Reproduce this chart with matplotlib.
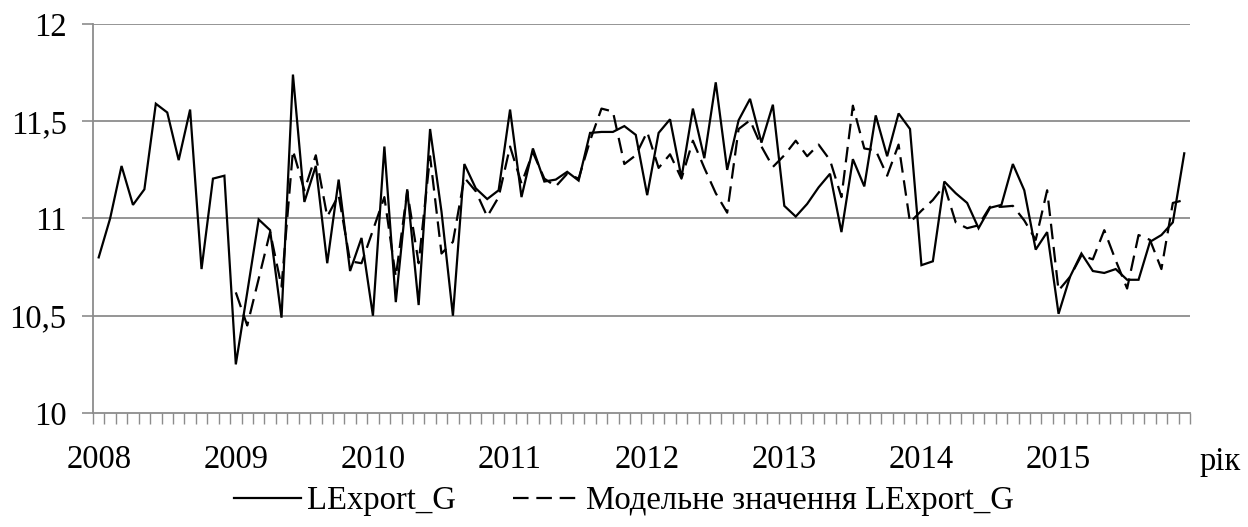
import matplotlib
matplotlib.use("Agg")
import matplotlib.pyplot as plt
from matplotlib.ticker import FixedLocator, FuncFormatter
import numpy as np

years = ["2008", "2009", "2010", "2011", "2012", "2013", "2014", "2015"]

lexport = [
    10.80, 11.00, 11.27, 11.07, 11.15, 11.59, 11.545, 11.30, 11.56, 10.74, 11.205, 11.22,
    10.25, 10.62, 10.995, 10.94, 10.49, 11.74, 11.085, 11.27, 10.77, 11.20, 10.73, 10.90,
    10.50, 11.37, 10.57, 11.15, 10.555, 11.46, 11.035, 10.50, 11.28, 11.155, 11.10, 11.145,
    11.56, 11.11, 11.36, 11.19, 11.20, 11.24, 11.195, 11.44, 11.445, 11.445, 11.475, 11.43,
    11.12, 11.44, 11.51, 11.21, 11.565, 11.31, 11.70, 11.25, 11.505, 11.615, 11.39, 11.585,
    11.065, 11.01, 11.075, 11.16, 11.23, 10.93, 11.305, 11.165, 11.53, 11.32, 11.54, 11.46,
    10.76, 10.78, 11.19, 11.13, 11.08, 10.95, 11.055, 11.07, 11.28, 11.145, 10.84, 10.93,
    10.51, 10.70, 10.82, 10.73, 10.72, 10.74, 10.685, 10.685, 10.88, 10.915, 10.98, 11.335,
]

model = [
    None, None, None, None, None, None, None, None, None, None, None, None,
    10.62, 10.45, 10.69, 10.93, 10.65, 11.35, 11.145, 11.325, 11.01, 11.12, 10.78, 10.77,
    10.94, 11.11, 10.70, 11.14, 10.77, 11.32, 10.82, 10.88, 11.21, 11.14, 11.01, 11.11,
    11.37, 11.18, 11.34, 11.205, 11.165, 11.23, 11.205, 11.40, 11.565, 11.55, 11.28, 11.325,
    11.445, 11.26, 11.33, 11.205, 11.40, 11.26, 11.13, 11.03, 11.46, 11.505, 11.37, 11.265,
    11.325, 11.40, 11.32, 11.38, 11.30, 11.11, 11.58, 11.36, 11.35, 11.22, 11.38, 10.98,
    11.04, 11.095, 11.17, 10.98, 10.95, 10.965, 11.06, 11.06, 11.065, 10.99, 10.89, 11.145,
    10.63, 10.70, 10.81, 10.79, 10.94, 10.785, 10.64, 10.915, 10.89, 10.74, 11.08, 11.095,
]

legend_labels = ["LExport_G", "Модельне значення LExport_G"]
y_ticks = [10, 10.5, 11, 11.5, 12]

plt.rcParams['font.family'] = ['Liberation Serif', 'DejaVu Serif']
FS = 23.5

fig = plt.figure(figsize=(12.48, 5.27), dpi=100)
ax = fig.add_axes([0.0745, 0.2163, 0.8790, 0.7382])

x = np.arange(len(lexport))
m = np.array([np.nan if v is None else v for v in model], dtype=float)

ax.plot(x, lexport, color='black', lw=1.6, solid_joinstyle='miter', label=legend_labels[0])
ax.plot(x, m, color='black', lw=1.6, dashes=(7, 3.5), label=legend_labels[1])

ax.set_xlim(-0.5, len(lexport) - 0.5)
ax.set_ylim(10, 12)

grid_c = '#8c8c8c'
for yv in y_ticks[1:]:
    ax.axhline(yv, color=grid_c, lw=1.3, zorder=0)

ax.set_yticks(y_ticks)
ax.yaxis.set_major_formatter(FuncFormatter(lambda v, p: ('%g' % v).replace('.', ',')))
ax.tick_params(axis='y', direction='out', length=8, width=1.2, color=grid_c,
               labelsize=FS, pad=11)

ax.xaxis.set_major_locator(FixedLocator(np.arange(0, len(lexport), 12)))
ax.set_xticklabels(years)
ax.xaxis.set_minor_locator(FixedLocator(np.arange(-0.5, len(lexport), 1)))
ax.tick_params(axis='x', which='major', length=0, labelsize=FS, pad=23)
ax.tick_params(axis='x', which='minor', direction='out', length=8, width=1.0, color=grid_c)

for s in ['top', 'right']:
    ax.spines[s].set_visible(False)
for s in ['left', 'bottom']:
    ax.spines[s].set_color(grid_c)
    ax.spines[s].set_linewidth(1.3)

fig.text(0.961, 1 - 462 / 527, "рік", fontsize=FS, va='center', ha='left')

leg = fig.legend(loc='center', bbox_to_anchor=(0.5, 1 - 501 / 527), ncol=2, frameon=False,
                 fontsize=FS, handlelength=2.05, handletextpad=0.2, columnspacing=1.75)

fig.savefig("out.png", dpi=100)
